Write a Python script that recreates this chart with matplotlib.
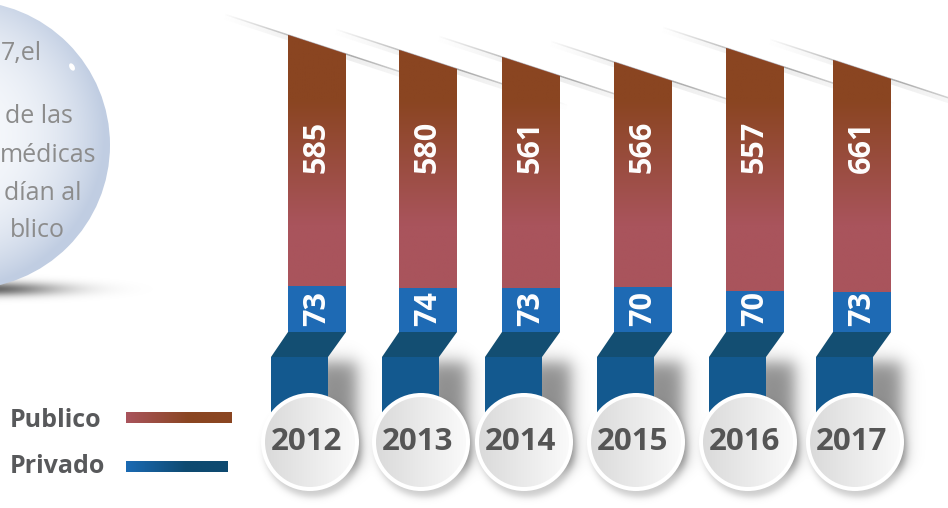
import numpy as np
import matplotlib
matplotlib.use('Agg')
import matplotlib.pyplot as plt
from matplotlib.patches import Polygon, Circle, Rectangle, Ellipse
from matplotlib.collections import LineCollection
from matplotlib.colors import to_rgb

plt.rcParams['font.family'] = ['Open Sans', 'DejaVu Sans']

# data
years = ['2012', '2013', '2014', '2015', '2016', '2017']
publico = [585, 580, 561, 566, 557, 661]
privado = [73, 74, 73, 70, 70, 73]
series = ['Publico', 'Privado']
bubble_lines = ['7,el', 'de las', 'médicas', 'dían al', 'blico']

# layout in pixels (y grows downward)
W, H = 948, 508
bar_left = [288, 399, 502, 614, 726, 833]
bar_w = 58
top_cut = [35, 50, 57, 62, 48, 60]      # top-left corner of each strip
split_y = [286, 288, 288, 287, 291, 292]  # publico / privado boundary
fold_top, fold_bot, ribbon_end = 332, 357, 425
shift = 17
slope = 19.0 / bar_w
circ_y, circ_r, circ_in = 442, 49, 45
bubble_c, bubble_r = (-34, 145), 144
bubble_x = [1, 73, 96, 82, 65]
bubble_ha = ['left', 'right', 'right', 'right', 'right']
bubble_base = [60, 123, 162, 200, 237]

pub_top, pub_bot = to_rgb('#8a4521'), to_rgb('#a9545c')
priv_col = '#1e6ab4'
fold_col = '#134e72'
ribbon_col = '#13598f'
txt_gray = '#58595b'

fig = plt.figure(figsize=(9.48, 5.08), dpi=100)
ax = fig.add_axes([0, 0, 1, 1])
ax.set_xlim(0, W)
ax.set_ylim(H, 0)
ax.axis('off')

xc = [l + bar_w / 2 for l in bar_left]
cx = [x - 7 for x in xc]

# soft shadows
YY, XX = np.mgrid[0:H, 0:W] + 0.5
def soft_box(x0, x1, y0, y1, s):
    return 0.25 * (np.tanh((XX - x0) / s) - np.tanh((XX - x1) / s)) * \
        (np.tanh((YY - y0) / s) - np.tanh((YY - y1) / s))

shadow = 0.6 * np.exp(-(((XX + 15) / 75) ** 2 + ((YY - 289) / 7) ** 2))
for i in range(len(years)):
    rr = bar_left[i] + bar_w - shift
    shadow += 0.45 * soft_box(rr - 15, rr + 28, 362, 466, 10)
    d = np.sqrt((XX - cx[i] - 3) ** 2 + (YY - circ_y - 6) ** 2)
    shadow += 0.2 * 0.5 * (1 - np.tanh((d - circ_r) / 4))
shadow = np.clip(shadow, 0, 0.6)
img = np.zeros((H, W, 4))
img[..., 3] = shadow
ax.imshow(img, extent=(0, W, H, 0), zorder=1, interpolation='bilinear')

# diagonal folds at the top
for i in range(len(years)):
    xl, xr = bar_left[i], bar_left[i] + bar_w
    xs = np.linspace(xl - 65, xr + 110, 120)
    ys = top_cut[i] + slope * (xs - xl)
    pts = np.column_stack([xs, ys]).reshape(-1, 1, 2)
    segs = np.concatenate([pts[:-1], pts[1:]], axis=1)
    mid = xs[:-1]
    a = np.where(mid < xl, 0.4 * (mid - (xl - 65)) / 65,
                 np.where(mid > xr, 0.55 * (1 - (mid - xr) / 110), 0.55))
    cols = [(0.42, 0.42, 0.42, max(v, 0)) for v in a]
    ax.add_collection(LineCollection(segs, colors=cols, linewidths=1.1, zorder=1.2))
    segs2 = segs.copy()
    segs2[:, :, 1] += 2.5
    cols2 = [(0.5, 0.5, 0.5, max(v, 0) * 0.25) for v in a]
    ax.add_collection(LineCollection(segs2, colors=cols2, linewidths=4, zorder=1.1))

# publico strips
pub_bars = ax.bar(xc, [s - t for s, t in zip(split_y, top_cut)], bottom=top_cut,
                  width=bar_w, color='#a9545c', zorder=2)
for i, rect in enumerate(pub_bars):
    xl, xr = bar_left[i], bar_left[i] + bar_w
    clip = Polygon([(xl, top_cut[i]), (xr, top_cut[i] + 19), (xr, split_y[i]),
                    (xl, split_y[i])], transform=ax.transData)
    rect.set_clip_path(clip)
    yv = np.linspace(top_cut[i], split_y[i], 200)
    t = np.clip((yv - 100) / 125.0, 0, 1)[:, None]
    grad = (1 - t) * np.array(pub_top) + t * np.array(pub_bot)
    im = ax.imshow(grad[:, None, :].repeat(2, axis=1), extent=(xl, xr, split_y[i], top_cut[i]),
                   aspect='auto', zorder=2.1, interpolation='bilinear')
    im.set_clip_path(clip)
    ax.text(xc[i], 173, str(publico[i]), rotation=90, ha='center', va='bottom',
            color='white', fontsize=22, fontweight='bold', zorder=5)

# privado strips
priv_bars = ax.bar(xc, [fold_top - s for s in split_y], bottom=split_y, width=bar_w,
                   color=priv_col, zorder=2)
for i in range(len(years)):
    xl, xr = bar_left[i], bar_left[i] + bar_w
    ax.text(xc[i], 326, str(privado[i]), rotation=90, ha='center', va='bottom',
            color='white', fontsize=22, fontweight='bold', zorder=5)
    ax.add_patch(Polygon([(xl, fold_top), (xr, fold_top), (xr - shift - 1, fold_bot),
                          (xl - shift, fold_bot)], fc=fold_col, ec='none', zorder=2))
    ax.add_patch(Rectangle((xl - shift, fold_bot), bar_w - 1, ribbon_end - fold_bot,
                           fc=ribbon_col, ec='none', zorder=2))

# year medallions
gx = np.linspace(0, 1, 100)[None, :, None]
c_left, c_right = np.array(to_rgb('#dadada')), np.array(to_rgb('#fafafa'))
medal = (1 - gx) * c_left + gx * c_right
medal = medal.repeat(2, axis=0)
for i in range(len(years)):
    ax.add_patch(Circle((cx[i], circ_y), circ_r, fc='white', ec='none', zorder=3))
    inner = Circle((cx[i], circ_y), circ_in, transform=ax.transData)
    im = ax.imshow(medal, extent=(cx[i] - circ_in, cx[i] + circ_in, circ_y + circ_in,
                                  circ_y - circ_in), aspect='auto', zorder=3.1,
                   interpolation='bilinear')
    im.set_clip_path(inner)
    ax.text(cx[i] - 3, circ_y, years[i], ha='center', va='center', fontsize=22.5,
            fontweight='bold', color='#555555', zorder=5)

# legend
leg_base = [427, 473]
leg_bar_y = [412, 461]
leg_bar_x1 = [232, 228]
leg_cols = [('#a9545c', '#8a4521'), ('#1b6ab3', '#0e4a70')]
for k, name in enumerate(series):
    ax.text(10, leg_base[k], name, ha='left', va='baseline', fontsize=18,
            fontweight='bold', color=txt_gray, zorder=5)
    t = np.clip(np.linspace(0, 1, 100) / 0.6, 0, 1)[None, :, None]
    g = (1 - t) * np.array(to_rgb(leg_cols[k][0])) + t * np.array(to_rgb(leg_cols[k][1]))
    ax.imshow(g.repeat(2, axis=0), extent=(126, leg_bar_x1[k], leg_bar_y[k] + 11, leg_bar_y[k]),
              aspect='auto', zorder=3, interpolation='bilinear')

# glass bubble on the left
bx = np.arange(0, 112) + 0.5
by = np.arange(0, 292) + 0.5
BX, BY = np.meshgrid(bx, by)
dd = np.sqrt((BX + 50) ** 2 + (BY - 135) ** 2)
tt = np.clip(dd / 155.0, 0, 1) ** 2.6
bub = (1 - tt)[..., None] * np.array(to_rgb('#f7f9fc')) + tt[..., None] * np.array(to_rgb('#c0cde2'))
bclip = Circle(bubble_c, bubble_r, transform=ax.transData)
im = ax.imshow(bub, extent=(0, 112, 292, 0), aspect='auto', zorder=3, interpolation='bilinear')
im.set_clip_path(bclip)
ax.add_patch(Ellipse((72, 67), 5, 8, angle=-30, fc='white', ec='none', zorder=4))
for s, x, ha, yb in zip(bubble_lines, bubble_x, bubble_ha, bubble_base):
    ax.text(x, yb, s, ha=ha, va='baseline', fontsize=18, color='#8c8c8c', zorder=5)

fig.savefig('out.png', dpi=100)
